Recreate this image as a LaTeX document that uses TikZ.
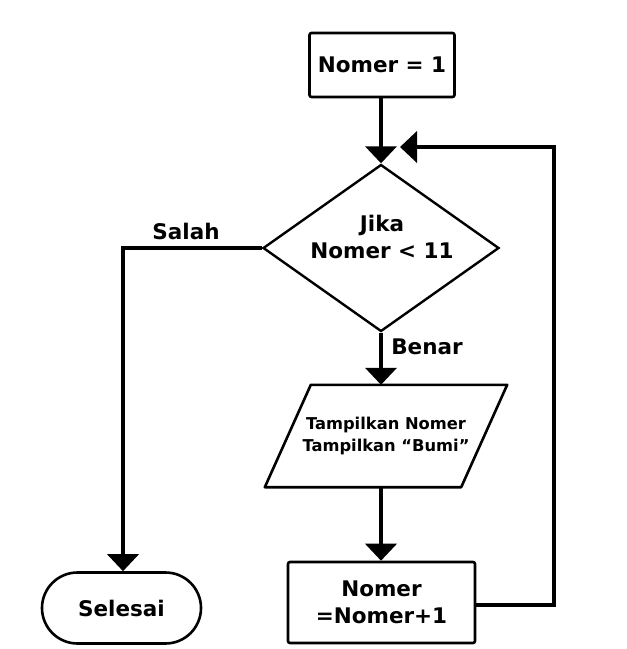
\documentclass[tikz,border=0pt]{standalone}
\usepackage{fontspec}
\setmainfont{DejaVu Sans}
\usetikzlibrary{arrows.meta,shapes.geometric,shapes.misc}
\begin{document}
\begin{tikzpicture}[x=1pt,y=-1pt,
  every node/.style={font=\bfseries\fontsize{21.5}{27}\selectfont, align=center},
  shp/.style={draw, line width=2.6pt, inner sep=0pt},
  boxnode/.style={shp, rectangle, rounded corners=2pt},
  conn/.style={line width=4pt, -{Triangle[width=31pt,length=17pt]}},
  lbl/.style={inner sep=0pt}
]
\useasboundingbox (0,0) rectangle (627,649);
\node[boxnode, minimum width=145pt, minimum height=64pt] (start) at (382,65) {Nomer = 1};
\node[shp, diamond, aspect=1.4, line width=2.4pt, minimum width=236pt, minimum height=167pt] (dec) at (381,248) {};
\node[lbl] (dectext) at (382,237) {Jika\\Nomer < 11};
\node[inner sep=0pt, minimum width=196pt, minimum height=102pt, font=\bfseries\fontsize{16.3}{22}\selectfont] (io) at (386,436)
      {Tampilkan Nomer\\Tampilkan “Bumi”};
\draw[line width=2.6pt, line join=round]
  ([xshift=23pt]io.north west) -- ([xshift=23pt]io.north east) --
  ([xshift=-23pt]io.south east) -- ([xshift=-23pt]io.south west) -- cycle;
\node[boxnode, minimum width=187pt, minimum height=81pt] (inc) at (381.5,602.5) {Nomer\\=Nomer+1};
\node[shp, rounded rectangle, minimum width=159pt, minimum height=71pt] (end) at (121.5,608) {Selesai};
\node[lbl] (salah) at (186,231) {Salah};
\node[lbl] (benar) at (427,347) {Benar};
\coordinate (corl) at (123,248);
\coordinate (rbot) at (554,605);
\coordinate (rtop) at (554,147);
\coordinate (tip) at (400,147);
\draw[conn] (start.south -| dec.north) -- (dec.north);
\draw[conn] (dec.south) -- (io.north -| dec.south);
\draw[conn] (io.south -| dec.south) -- (inc.north -| dec.south);
\draw[conn] (dec.west) -- (corl) -- (end.north -| corl);
\draw[conn] (inc.east |- rbot) -- (rbot) -- (rtop) -- (tip);
\end{tikzpicture}
\end{document}
